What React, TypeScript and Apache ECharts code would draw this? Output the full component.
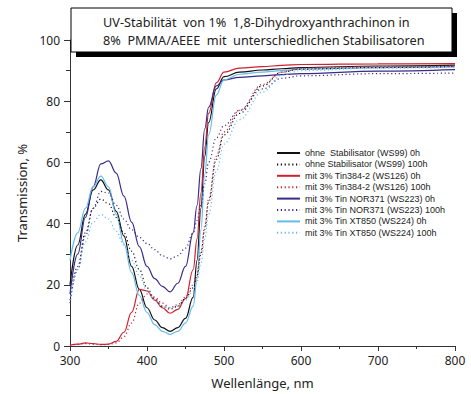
import React, { useEffect, useRef } from "react";
import * as echarts from "echarts";

const wavelengths = [300, 310, 320, 330, 340, 350, 360, 370, 380, 390, 400, 410, 420, 430, 440, 450, 460, 465, 470, 475, 480, 490, 500, 520, 550, 575, 600, 700, 800];

const ohne0h = [20, 33, 43, 51, 54.3, 51, 44, 36, 26, 18.5, 12.5, 8.5, 6, 4.8, 6, 9, 16, 28, 45, 62, 73, 84, 88, 89.5, 90.2, 90.6, 91, 91.5, 91.8];
const ohne100h = [15, 26, 37, 45, 48, 46.5, 42, 37, 31, 25, 19, 15.5, 13, 12, 13, 15.5, 19, 23, 30, 38, 47, 61, 69, 76, 85, 89.5, 90.5, 91, 91.3];
const tin384_0h = [0.3, 0.6, 1.0, 0.8, 0.5, 0.6, 1.5, 4.5, 11, 18.5, 18, 15, 12.5, 10.7, 12, 15.5, 25, 35, 50, 65, 76, 86, 89.5, 90.8, 91.3, 91.7, 92, 92.2, 92.3];
const tin384_100h = [0.3, 0.5, 0.8, 0.6, 0.4, 0.5, 1.0, 3, 7.5, 14, 17, 16, 14, 12.5, 13.5, 16, 20, 24, 31, 39, 48, 62, 70, 77, 85.5, 89.5, 90.8, 91.3, 91.5];
const nor371_0h = [17, 30, 42, 52, 59.5, 60.5, 56.5, 49, 40.5, 32.5, 26, 22, 19.5, 17.7, 20.5, 26, 37, 46, 58, 71, 78, 85, 87, 87.8, 88.3, 88.7, 89, 89.8, 90.3];
const nor371_100h = [14, 25, 36, 45, 50.5, 50, 46, 41.5, 38, 35.5, 33.5, 31.5, 29.5, 28.5, 29.5, 32, 37, 41, 46, 53, 60, 68, 72, 77, 84, 87.5, 88.3, 89, 89.2];
const xt850_0h = [28, 37, 45, 52, 55.5, 52, 43, 33.5, 24, 16.5, 11, 7, 4.8, 3.8, 4.8, 7.5, 13, 22, 38, 56, 69, 82, 87, 88.8, 89.5, 90, 90.5, 91, 91.3];
const xt850_100h = [15, 25, 34, 40.5, 43, 41.5, 37.5, 33, 28, 23, 18, 15, 13, 12.5, 13, 15, 18, 21, 27, 35, 43, 57, 66, 74, 83, 88.5, 90, 90.8, 91];

const seriesNames = [
  "ohne  Stabilisator (WS99) 0h",
  "ohne Stabilisator (WS99) 100h",
  "mit 3% Tin384-2 (WS126) 0h",
  "mit 3% Tin384-2 (WS126) 100h",
  "mit 3% Tin NOR371 (WS223) 0h",
  "mit 3% Tin NOR371 (WS223) 100h",
  "mit 3% Tin XT850 (WS224) 0h",
  "mit 3% Tin XT850 (WS224) 100h",
];
const seriesValues = [ohne0h, ohne100h, tin384_0h, tin384_100h, nor371_0h, nor371_100h, xt850_0h, xt850_100h];
const seriesColors = ["#111111", "#111111", "#cc2233", "#cc2233", "#3a2a8a", "#3a2a8a", "#66bbee", "#66bbee"];
const seriesDotted = [false, true, false, true, false, true, false, true];

const titleLines = [
  "UV-Stabilität  von 1%  1,8-Dihydroxyanthrachinon in",
  "8%  PMMA/AEEE  mit  unterschiedlichen Stabilisatoren",
];
const xName = "Wellenlänge, nm";
const yName = "Transmission, %";

const FONT = "Noto Sans";
const LEGEND_FONT = "Liberation Sans";

export default function App() {
  const ref = useRef<HTMLDivElement>(null);
  useEffect(() => {
    if (!ref.current) return;
    const chart = echarts.init(ref.current, null, { renderer: "svg" });
    const series = seriesNames.map((name, i) => ({
      name,
      type: "line",
      smooth: 0.4,
      smoothMonotone: "x",
      symbol: "none",
      data: wavelengths.map((w, j) => [w, seriesValues[i][j]]),
      lineStyle: {
        color: seriesColors[i],
        width: 1.2,
        type: seriesDotted[i] ? [1.2, 2.6] : "solid",
      },
      itemStyle: { color: seriesColors[i] },
      z: seriesDotted[i] ? 3 : 2,
    }));
    chart.setOption({
      animation: false,
      backgroundColor: "#ffffff",
      textStyle: { fontFamily: FONT },
      grid: { left: 70, right: 16, top: 40, bottom: 47, containLabel: false },
      xAxis: {
        type: "value",
        min: 300,
        max: 800,
        interval: 100,
        name: xName,
        nameLocation: "middle",
        nameGap: 30,
        nameTextStyle: { fontSize: 13, color: "#222", fontFamily: FONT },
        axisLine: { show: true, lineStyle: { color: "#333", width: 1 } },
        axisTick: { show: true, length: 5, lineStyle: { color: "#333" } },
        minorTick: { show: true, splitNumber: 2, length: 3, lineStyle: { color: "#333" } },
        splitLine: { show: false },
        axisLabel: { fontSize: 12, color: "#222", margin: 8, fontFamily: FONT },
      },
      yAxis: {
        type: "value",
        min: 0,
        max: 100,
        interval: 20,
        name: yName,
        nameLocation: "middle",
        nameGap: 42,
        nameTextStyle: { fontSize: 13, color: "#222", fontFamily: FONT },
        axisLine: { show: true, lineStyle: { color: "#333", width: 1 } },
        axisTick: { show: true, length: 6, lineStyle: { color: "#333" } },
        minorTick: { show: true, splitNumber: 2, length: 4, lineStyle: { color: "#333" } },
        splitLine: { show: false },
        axisLabel: { fontSize: 12, color: "#222", margin: 10, fontFamily: FONT },
      },
      legend: {
        show: true,
        orient: "vertical",
        left: 276,
        top: 148,
        padding: 0,
        itemWidth: 23,
        itemHeight: 10,
        itemGap: 1.4,
        itemStyle: { color: "rgba(0,0,0,0)", borderWidth: 0, opacity: 0 },
        textStyle: { fontSize: 9, lineHeight: 10, color: "#222", fontFamily: LEGEND_FONT },
        data: seriesNames,
      },
      graphic: [
        { type: "rect", z: 100, shape: { x: 76, y: 13, width: 381, height: 44 }, style: { fill: "#000" } },
        { type: "rect", z: 101, shape: { x: 71, y: 8, width: 381, height: 44 }, style: { fill: "#fff", stroke: "#000", lineWidth: 1 } },
        { type: "text", z: 102, x: 103, y: 22, style: { text: titleLines[0], fontSize: 12.7, fontFamily: FONT, fill: "#222", verticalAlign: "middle", align: "left" } },
        { type: "text", z: 102, x: 103, y: 40, style: { text: titleLines[1], fontSize: 12.7, fontFamily: FONT, fill: "#222", verticalAlign: "middle", align: "left" } },
      ],
      series,
    });
    return () => chart.dispose();
  }, []);
  return <div ref={ref} style={{ position: "fixed", left: 0, top: 0, width: 471, height: 394 }} />;
}
